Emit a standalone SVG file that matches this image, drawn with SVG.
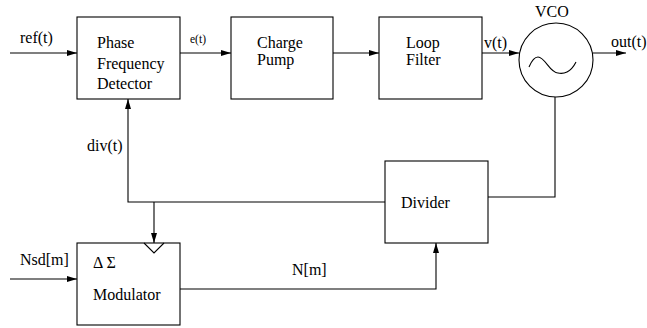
<svg xmlns="http://www.w3.org/2000/svg" width="647" height="328" viewBox="0 0 647 328">
<style>
  .box { fill: #fff; stroke: #000; stroke-width: 1.1; }
  .wire { fill: none; stroke: #000; stroke-width: 1.1; }
  text { font-family: 'Liberation Serif', 'DejaVu Serif', serif; font-size: 16px; fill: #000; }
  .s { font-size: 11.5px; }
</style>
<defs>
  <marker id="arr" viewBox="0 0 10 6" refX="10" refY="3" markerWidth="10" markerHeight="6" markerUnits="userSpaceOnUse" orient="auto">
    <path d="M0,0 L10,3 L0,6 Z" fill="#000"/>
  </marker>
</defs>
<rect width="647" height="328" fill="#fff"/>

<g id="connectors">
  <line class="wire" x1="10" y1="53" x2="77" y2="53" marker-end="url(#arr)"/>
  <line class="wire" x1="180" y1="53" x2="231" y2="53" marker-end="url(#arr)"/>
  <line class="wire" x1="333" y1="53" x2="379" y2="53" marker-end="url(#arr)"/>
  <line class="wire" x1="482" y1="53" x2="519" y2="53" marker-end="url(#arr)"/>
  <line class="wire" x1="593" y1="53" x2="626" y2="53" marker-end="url(#arr)"/>
  <polyline class="wire" points="555,97 555,197 488,197"/>
  <polyline class="wire" points="385,202 128,202 128,99" marker-end="url(#arr)"/>
  <line class="wire" x1="154" y1="202" x2="154" y2="243" marker-end="url(#arr)"/>
  <line class="wire" x1="10" y1="279" x2="77" y2="279" marker-end="url(#arr)"/>
  <polyline class="wire" points="180,289 436,289 436,243" marker-end="url(#arr)"/>
</g>

<g id="pfd">
  <rect class="box" x="77" y="17" width="103" height="82"/>
  <text x="97" y="48">Phase</text>
  <text x="97" y="69">Frequency</text>
  <text x="97" y="89">Detector</text>
</g>
<g id="chargepump">
  <rect class="box" x="231" y="17" width="102" height="82"/>
  <text x="257" y="48">Charge</text>
  <text x="257" y="65">Pump</text>
</g>
<g id="loopfilter">
  <rect class="box" x="379" y="17" width="103" height="82"/>
  <text x="406" y="48">Loop</text>
  <text x="406" y="65">Filter</text>
</g>
<g id="vco">
  <circle class="box" cx="556" cy="60" r="37"/>
  <path class="wire" d="M529,67 C532,60 535,57 538,57 C545,57 550,73 558,73 C562,74 565,73 567,72 C571,70 574,66 576,62"/>
  <text x="535" y="17">VCO</text>
</g>
<g id="divider">
  <rect class="box" x="385" y="161" width="103" height="82"/>
  <text x="401" y="208">Divider</text>
</g>
<g id="modulator">
  <rect class="box" x="77" y="243" width="103" height="82"/>
  <polyline class="wire" points="144,243 154,253 164,243"/>
  <text x="93" y="268">Δ Σ</text>
  <text x="93" y="300">Modulator</text>
</g>

<g id="labels">
  <text x="20" y="43">ref(t)</text>
  <text class="s" x="190" y="43">e(t)</text>
  <text x="484" y="48">v(t)</text>
  <text x="611" y="47">out(t)</text>
  <text x="87" y="151">div(t)</text>
  <text x="20" y="265">Nsd[m]</text>
  <text x="292" y="275">N[m]</text>
</g>
</svg>
